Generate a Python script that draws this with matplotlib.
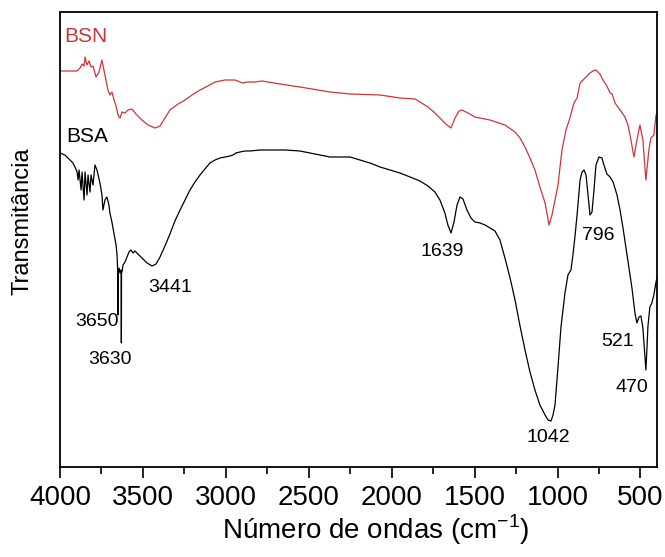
import matplotlib
matplotlib.use("Agg")
import matplotlib.pyplot as plt
from matplotlib.ticker import MultipleLocator

plt.rcParams['font.family'] = ['Liberation Sans', 'DejaVu Sans']

# BSN spectrum (red): wavenumber (cm-1), transmittance (arbitrary units)
bsn_wn = [4000, 3897, 3879, 3867, 3855, 3849, 3837, 3825, 3813, 3801, 3783, 3765, 3747, 3735,
          3723, 3711, 3699, 3687, 3674, 3662, 3650, 3638, 3626, 3608, 3590, 3566, 3542, 3506,
          3469, 3427, 3397, 3337, 3288, 3246, 3204, 3156, 3108, 3065, 3005, 2945, 2915, 2897,
          2872, 2824, 2782, 2673, 2553, 2372, 2251, 2070, 1950, 1859, 1829, 1781, 1739, 1697,
          1667, 1642, 1618, 1594, 1576, 1540, 1498, 1407, 1317, 1256, 1226, 1196, 1166, 1136,
          1106, 1075, 1051, 1033, 1015, 997, 973, 949, 925, 901, 882, 864, 834, 804, 786, 768,
          744, 726, 702, 683, 671, 653, 623, 593, 575, 557, 539, 521, 503, 485, 467, 449, 437,
          419, 406]
bsn_t = [396, 396, 399, 403, 401, 410, 402, 406, 400, 401, 390, 395, 407, 397,
         387, 377, 372, 375, 367, 361, 352, 349, 355, 354, 357, 358, 353, 347,
         342, 339, 341, 357, 363, 367, 372, 377, 381, 385, 387, 387, 385, 384,
         385, 385, 386, 383, 380, 375, 373, 372, 369, 368, 365, 360, 354, 347,
         342, 339, 349, 356, 357, 354, 350, 347, 342, 335, 329, 320, 309, 297,
         280, 264, 242, 252, 267, 282, 317, 337, 349, 364, 369, 384, 389, 394, 396, 397,
         393, 387, 381, 374, 373, 364, 357, 350, 342, 327, 310, 327, 342, 327, 287, 317, 329,
         332, 352]

# BSA spectrum (black)
bsa_wn = [4000, 3970, 3940, 3922, 3910, 3897, 3891, 3885, 3873, 3867, 3855, 3849, 3837, 3831,
          3819, 3813, 3801, 3789, 3777, 3759, 3747, 3741, 3729, 3717, 3705, 3699, 3687, 3675,
          3662, 3656, 3651.5, 3650, 3648.5, 3644, 3638, 3632, 3631, 3630, 3629, 3626, 3620,
          3608, 3596, 3584, 3572, 3560, 3548, 3530, 3506, 3475, 3445, 3421, 3397, 3367, 3337,
          3307, 3276, 3246, 3216, 3186, 3156, 3126, 3096, 3065, 3035, 3005, 2975, 2957, 2939,
          2915, 2884, 2854, 2794, 2734, 2643, 2553, 2462, 2372, 2312, 2251, 2191, 2131, 2070,
          2010, 1950, 1890, 1829, 1781, 1739, 1709, 1679, 1661, 1642, 1624, 1606, 1588, 1570,
          1546, 1522, 1498, 1467, 1437, 1407, 1377, 1347, 1317, 1286, 1256, 1226, 1196, 1166,
          1136, 1106, 1075, 1057, 1039, 1027, 1015, 997, 979, 955, 937, 919, 907, 895, 882,
          864, 852, 840, 828, 816, 804, 792, 780, 768, 750, 732, 720, 702, 683, 665, 641, 623,
          605, 587, 569, 551, 533, 521, 509, 497, 485, 473, 467, 461, 455, 443, 431, 419, 406,
          400]
bsa_t = [314, 312, 307, 304, 300, 295, 287, 297, 277, 295, 267, 295, 272, 292,
         275, 292, 282, 302, 297, 284, 272, 257, 267, 270, 262, 254, 245, 234,
         222, 212, 194, 152, 194, 199, 194, 197, 195, 124, 195, 195, 202,
         205, 210, 215, 217, 214, 216, 213, 209, 204, 201, 203, 210, 221, 233,
         246, 257, 267, 277, 285, 292, 298, 304, 307, 309, 310, 311, 312, 314,
         315, 316, 316, 317, 317, 317, 316, 313, 310, 310, 310, 307, 304, 300,
         297, 294, 290, 286, 281, 275, 267, 254, 242, 234, 245, 262, 270, 268,
         257, 249, 245, 244, 242, 239, 236, 227, 209, 189, 167, 141, 117, 95,
         77, 62, 52, 47, 46, 52, 62, 100, 140, 174, 192, 197, 212, 230, 252,
         287, 295, 297, 292, 272, 252, 255, 277, 302, 310, 309, 302, 293, 290, 285, 272, 257,
         239, 219, 199, 179, 154, 144, 150, 151, 139, 112, 97, 117, 140, 160, 164, 172, 185,
         189]

# Peak labels for BSA
peak_labels = ["3650", "3630", "3441", "1639", "1042", "796", "521", "470"]
peak_label_wn = [3777, 3698, 3337, 1697, 1057, 756, 635, 551]
peak_label_t = [145, 107, 180, 215, 30, 232, 125, 79]

RED = '#c8373a'

fig = plt.figure(figsize=(6.65, 5.57), dpi=100)
ax = fig.add_axes([60/665, 90/557, 597/665, 455/557])

ax.plot(bsn_wn, bsn_t, color=RED, lw=0.9)
ax.plot(bsa_wn, bsa_t, color='black', lw=0.9)

ax.text(3976, 430, "BSN", color=RED, fontsize=15, ha='left', va='center')
ax.text(3964, 330, "BSA", color='black', fontsize=15, ha='left', va='center')
for lab, wx, ty in zip(peak_labels, peak_label_wn, peak_label_t):
    ax.text(wx, ty, lab, fontsize=14, ha='center', va='center')

ax.set_xlim(4000, 400)
ax.set_ylim(0, 455)
ax.xaxis.set_major_locator(MultipleLocator(500))
ax.xaxis.set_minor_locator(MultipleLocator(250))
ax.set_yticks([])
ax.tick_params(axis='x', which='major', direction='out', length=8, width=1.2, labelsize=20, pad=5)
ax.tick_params(axis='x', which='minor', direction='out', length=5, width=1.2)
for sp in ax.spines.values():
    sp.set_linewidth(1.3)

ax.set_xlabel("Número de ondas (cm$^{\\mathregular{-1}}$)", fontsize=20, labelpad=5)
ax.xaxis.set_label_coords(0.528, -0.1)
ax.xaxis.label.set_va('top')
ax.set_ylabel("Transmitância", fontsize=17)
ax.yaxis.set_label_coords(-0.045, 0.54)

fig.savefig("out.png", dpi=100)
